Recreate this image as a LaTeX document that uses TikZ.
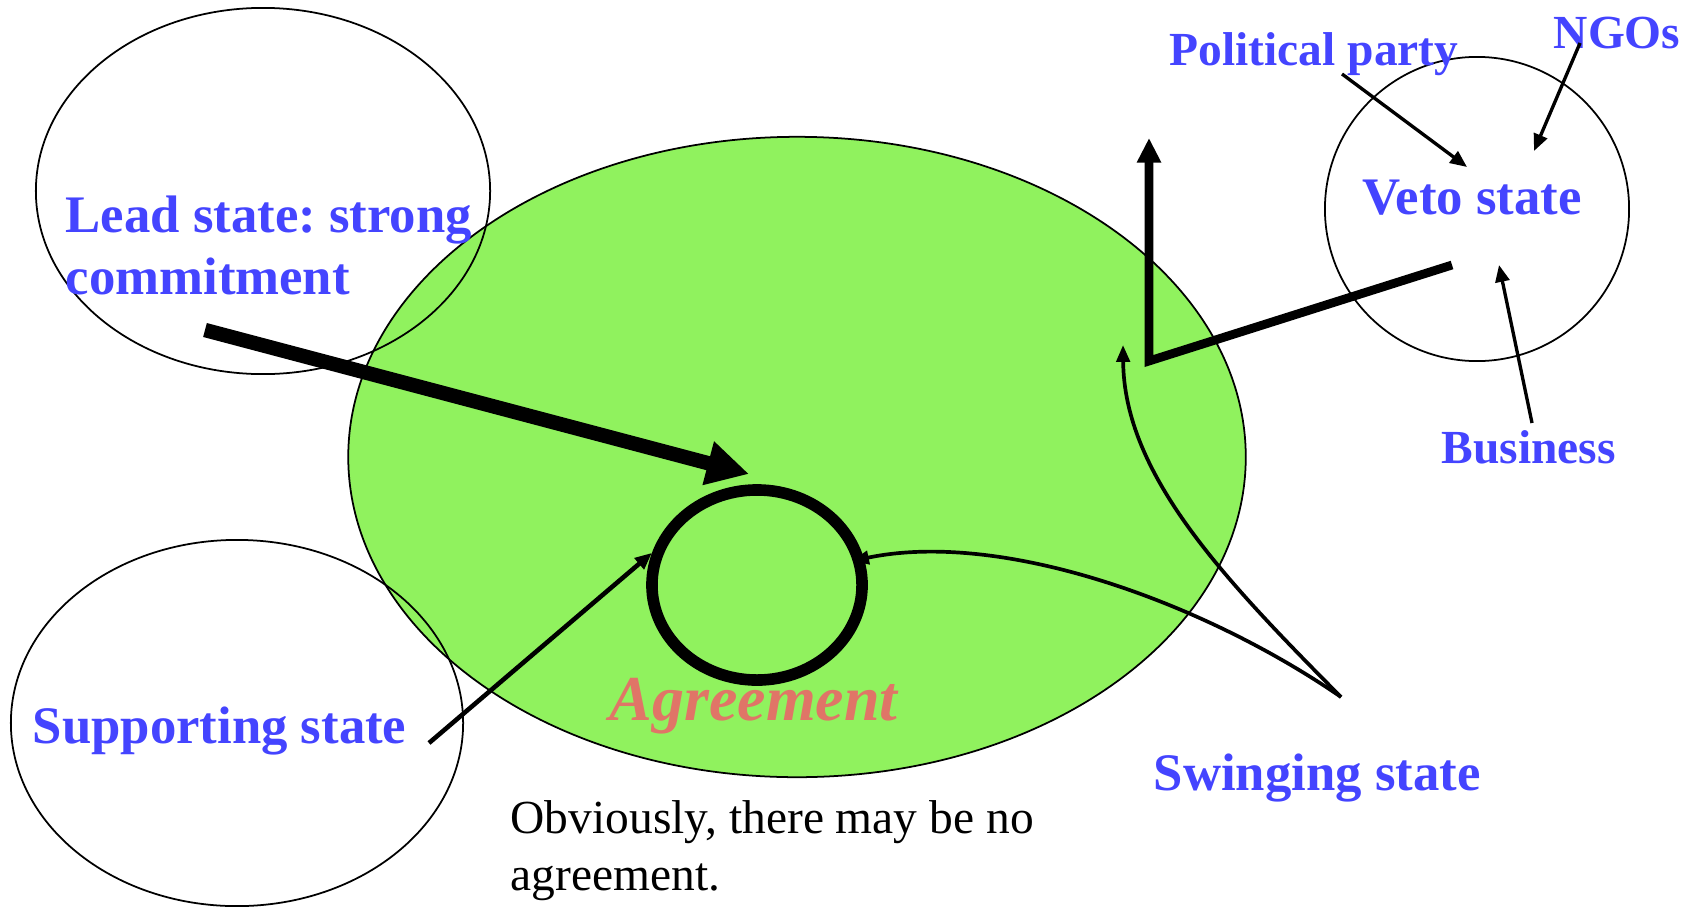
\documentclass[tikz,border=0pt]{standalone}
\usepackage{fontspec}
\setmainfont{Liberation Serif}
\usetikzlibrary{arrows.meta,shapes.geometric,positioning}
\definecolor{labelblue}{RGB}{68,68,255}
\definecolor{agreered}{RGB}{224,117,103}
\definecolor{zonegreen}{RGB}{144,242,94}
\frenchspacing

\begin{document}
\begin{tikzpicture}[x=0.01cm, y=-0.01cm, >=Stealth,
  state/.style={ellipse, draw, line width=0.5pt, inner sep=0pt},
  lbl/.style={font=\fontsize{15}{17.4}\selectfont\bfseries, text=labelblue, inner sep=0pt, anchor=base west, align=left},
  small lbl/.style={lbl, font=\fontsize{13.5}{16}\selectfont\bfseries},
  push/.style={-{Triangle[length=12pt,width=12pt]}, line width=4.1pt},
  pull/.style={-{Triangle[length=4.8pt,width=4pt]}, line width=0.95pt},
  swing/.style={-{Triangle[length=4.8pt,width=3.8pt]}, line width=1.05pt}]
\useasboundingbox (0,0) rectangle (1689,906);
% negotiation zone and the states
\node[state, fill=zonegreen, minimum width=8.97cm, minimum height=6.4cm] (zone) at (797,457) {};
\node[state, minimum width=4.54cm, minimum height=3.66cm] (lead) at (263,191) {};
\node[state, minimum width=4.52cm, minimum height=3.66cm] (support) at (237,723) {};
\node[state, minimum width=3.04cm, minimum height=3.04cm] (veto) at (1477,209) {};
\node[state, line width=3.3pt, minimum width=2.1cm, minimum height=1.9cm] (agree) at (757,585) {};
% labels (base = last line)
\node[lbl] (leadtxt) at (65,294) {Lead state: strong\\commitment};
\node[lbl] (supptxt) at (32,743) {Supporting state};
\node[lbl] (swingtxt) at (1153,790) {Swinging state};
\node[lbl, anchor=base] (vetotxt) at (1472,214) {Veto state};
\node[small lbl] (party) at (1169,65) {Political party};
\node[small lbl] (ngo) at (1553,48) {NGOs};
\node[small lbl] (biz) at (1441,463) {Business};
\node[font=\fontsize{18.2}{20}\selectfont\bfseries\itshape, text=agreered, anchor=base west, inner sep=0pt] (agreetxt) at (609,720) {Agreement};
\node[font=\fontsize{13.5}{16.2}\selectfont, anchor=base west, align=left, inner sep=0pt] (note) at (510,890) {Obviously, there may be no\\agreement.};
% arrow ends
\coordinate (pushstart) at (205,330);
\coordinate (pushend) at (749,474);
\coordinate (suppstart) at (429,743);
\coordinate (swingroot) at (1341,697);
\coordinate (ringtip) at (852,561);
\coordinate (bendtip) at (1123,345);
\coordinate (bend) at (1149,361);
\coordinate (raise) at (1149,138);
\coordinate (vetoend) at (1452,265);
\coordinate (partystart) at (1342,74);
\coordinate (partyend) at (1467,167);
\coordinate (ngostart) at (1580,43);
\coordinate (ngoend) at (1534,151);
\coordinate (bizstart) at (1532,423);
\coordinate (bizend) at (1499,265);
% connectors
\draw[push] (pushstart) -- (pushend);
\draw[pull, line width=1.3pt] (suppstart) -- (agree.163);
\draw[swing] (swingroot) .. controls (1200,600) and (1000,530) .. (ringtip);
\draw[swing] (swingroot) .. controls (1225,580) and (1124,475) .. (bendtip);
\draw[line width=2.5pt, {Triangle[length=7pt,width=6.5pt]}-] (raise) -- (bend) -- (vetoend);
\draw[pull] (partystart) -- (partyend);
\draw[pull] (ngostart) -- (ngoend);
\draw[pull] (bizstart) -- (bizend);
\end{tikzpicture}
\end{document}
